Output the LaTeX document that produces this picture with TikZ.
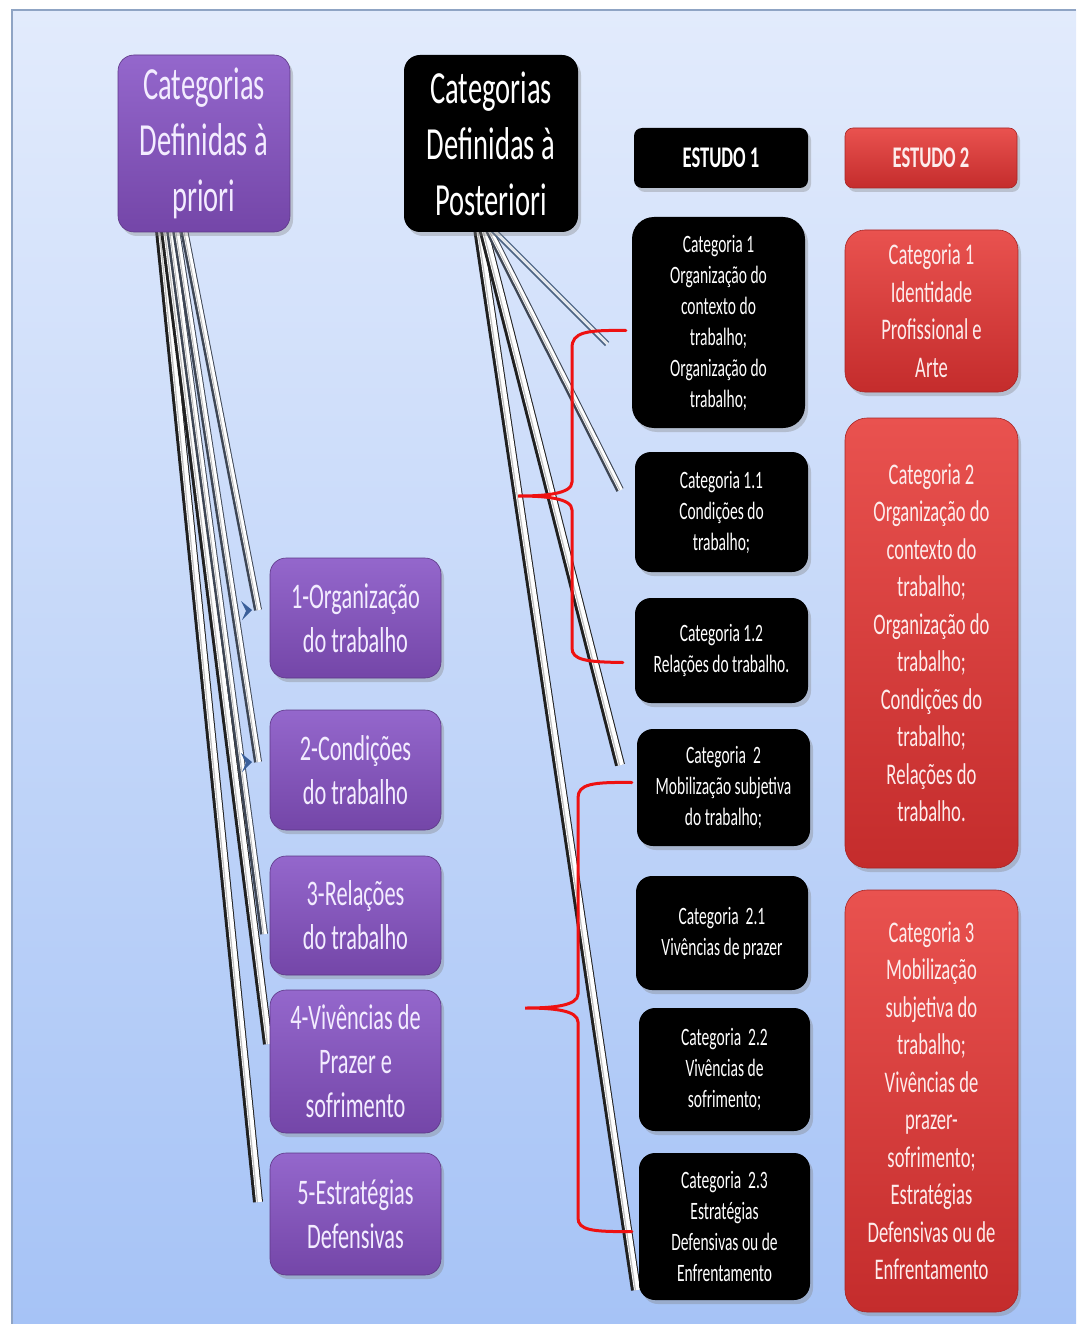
\documentclass[tikz,border=0pt]{standalone}
\usepackage{fontspec}
\setmainfont{Carlito}[FakeStretch=0.62]
\usetikzlibrary{shadows,calc,arrows.meta}
\definecolor{panelTop}{HTML}{E2EBFC}
\definecolor{panelBot}{HTML}{A6C3F6}
\definecolor{panelEdge}{HTML}{8FA4C4}
\definecolor{purpTop}{HTML}{9467CC}
\definecolor{purpBot}{HTML}{7446A8}
\definecolor{purpText}{HTML}{F3ECFF}
\definecolor{redTop}{HTML}{E9524F}
\definecolor{redBot}{HTML}{C42C2C}
\definecolor{redText}{HTML}{FDECEC}
\definecolor{tubeDark}{HTML}{202020}
\definecolor{tubeGrey}{HTML}{3E4654}
\definecolor{tubeBlue}{HTML}{4C6484}
\definecolor{tipBlue}{HTML}{3A5F9A}
\definecolor{braceRed}{HTML}{EE1111}
\tikzset{
  box/.style={rounded corners=16pt, align=center, inner sep=0pt,
    drop shadow={shadow xshift=3pt, shadow yshift=-4pt, opacity=0.35}},
  purplebox/.style={box, top color=purpTop, bottom color=purpBot, draw=purpBot!80!black, line width=0.6pt, text=purpText},
  blackbox/.style={box, fill=black, text=white},
  redbox/.style={box, top color=redTop, bottom color=redBot, draw=redBot!85!black, line width=0.6pt, text=redText},
  titlefont/.style={font=\fontsize{46}{56}\selectfont},
  purpfont/.style={font=\fontsize{36}{44}\selectfont},
  smallfont/.style={font=\fontsize{25}{31}\selectfont},
  redfont/.style={font=\fontsize{30}{37.5}\selectfont},
  headfont/.style={font=\bfseries\fontsize{30}{36}\selectfont},
  % metallic rods: dark body, light core slightly right of centre
  tubethick/.style={draw=tubeDark, line width=10pt,
    postaction={draw=white, line width=6pt, transform canvas={xshift=1pt}},
    postaction={draw=black!25, line width=1.2pt, transform canvas={xshift=-0.6pt}}},
  tubemid/.style={draw=tubeGrey, line width=8pt,
    postaction={draw=white, line width=4.5pt, transform canvas={xshift=0.8pt}},
    postaction={draw=black!25, line width=1pt, transform canvas={xshift=-0.4pt}}},
  tubethin/.style={draw=tubeBlue, line width=6pt,
    postaction={draw=white!85!tubeBlue, line width=3pt, transform canvas={xshift=0.5pt}}},
  bracket/.style={draw=braceRed, line width=3pt, line cap=round},
  tiphead/.style={fill=tipBlue, draw=none}
}
\begin{document}
\begin{tikzpicture}[x=1pt, y=-1pt]
% page and panel
\useasboundingbox (0,0) rectangle (1076,1324);
\fill[white] (0,0) rectangle (1076,1324);
\shade[top color=panelTop, bottom color=panelBot] (12,10) rectangle (1076,1324);
\draw[panelEdge, line width=2pt] (12,1324) -- (12,10) -- (1076,10);

% connectors from the two headline boxes (drawn first, boxes cover their roots)
\coordinate (s1) at (184,230);
\coordinate (s2) at (176,230);
\coordinate (s3) at (170,230);
\coordinate (s4) at (165,230);
\coordinate (s5) at (160,230);
\coordinate (a1) at (258,610);
\coordinate (a2) at (258,762);
\coordinate (a3) at (264,934);
\coordinate (a4) at (268,1044);
\coordinate (a5) at (258,1202);
\draw[tubethick] (s5) -- (a5);
\draw[tubethick] (s4) -- (a4);
\draw[tubemid] (s3) -- (a3);
\draw[tubemid] (s2) -- (a2);
\draw[tubemid] (s1) -- (a1);
\fill[tiphead] ($(a1)+(-17,-9)$) -- ($(a1)+(-6,0)$) -- ($(a1)+(-16,10)$) -- ($(a1)+(-12,1)$) -- cycle;
\fill[tiphead] ($(a2)+(-17,-9)$) -- ($(a2)+(-6,0)$) -- ($(a2)+(-16,10)$) -- ($(a2)+(-12,1)$) -- cycle;

\coordinate (t1) at (491,228);
\coordinate (t2) at (488,228);
\coordinate (t3) at (483,228);
\coordinate (t4) at (478,228);
\coordinate (c1) at (607,344);
\coordinate (c2) at (620,490);
\coordinate (c3) at (620,765);
\coordinate (c4) at (636,1290);
\draw[tubethick] (t4) -- (c4);
\draw[tubethick] (t3) -- (c3);
\draw[tubemid] (t2) -- (c2);
\draw[tubethin] (t1) -- (c1);

% headline boxes
\node[purplebox, titlefont, minimum width=172pt, minimum height=177pt] (pri) at (204,143.5)
  {Categorias\\Definidas à\\priori};
\node[blackbox, titlefont, minimum width=174pt, minimum height=177pt] (pos) at (491,143.5)
  {Categorias\\Definidas à\\Posteriori};
\node[blackbox, headfont, rounded corners=8pt, minimum width=174pt, minimum height=60pt] (e1) at (721,158) {ESTUDO 1};
\node[redbox, headfont, rounded corners=8pt, minimum width=172pt, minimum height=60pt] (e2) at (931,158) {ESTUDO 2};

% a priori categories
\node[purplebox, purpfont, minimum width=171pt, minimum height=120pt] (p1) at (355.5,618) {1-Organização\\do trabalho};
\node[purplebox, purpfont, minimum width=171pt, minimum height=120pt] (p2) at (355.5,770) {2-Condições\\do trabalho};
\node[purplebox, purpfont, minimum width=171pt, minimum height=119pt] (p3) at (355.5,915.5) {3-Relações\\do trabalho};
\node[purplebox, purpfont, minimum width=171pt, minimum height=143pt] (p4) at (355.5,1061.5) {4-Vivências de\\Prazer e\\sofrimento};
\node[purplebox, purpfont, minimum width=171pt, minimum height=122pt] (p5) at (355.5,1214) {5-Estratégias\\Defensivas};

% study 1 categories
\node[blackbox, smallfont, rounded corners=22pt, minimum width=173pt, minimum height=211pt] (b1) at (718.5,322.5)
  {Categoria 1\\Organização do\\contexto do\\trabalho;\\Organização do\\trabalho;};
\node[blackbox, smallfont, minimum width=173pt, minimum height=120pt] (b11) at (721.5,512)
  {Categoria 1.1\\Condições do\\trabalho;};
\node[blackbox, smallfont, minimum width=173pt, minimum height=105pt] (b12) at (721.5,650.5)
  {Categoria 1.2\\Relações do trabalho.};
\node[blackbox, smallfont, minimum width=173pt, minimum height=117pt] (b2) at (723.5,787.5)
  {Categoria\ \ 2\\Mobilização subjetiva\\do trabalho;};
\node[blackbox, smallfont, minimum width=172pt, minimum height=114pt] (b21) at (722,933)
  {Categoria\ \ 2.1\\Vivências de prazer};
\node[blackbox, smallfont, minimum width=171pt, minimum height=123pt] (b22) at (724.5,1069.5)
  {Categoria\ \ 2.2\\Vivências de\\sofrimento;};
\node[blackbox, smallfont, minimum width=171pt, minimum height=147pt] (b23) at (724.5,1226.5)
  {Categoria\ \ 2.3\\Estratégias\\Defensivas ou de\\Enfrentamento};

% study 2 categories
\node[redbox, redfont, rounded corners=20pt, minimum width=173pt, minimum height=162pt] (r1) at (931.5,311)
  {Categoria 1\\Identidade\\Profissional e\\Arte};
\node[redbox, redfont, rounded corners=22pt, minimum width=173pt, minimum height=450pt] (r2) at (931.5,643)
  {Categoria 2\\Organização do\\contexto do\\trabalho;\\Organização do\\trabalho;\\Condições do\\trabalho;\\Relações do\\trabalho.};
\node[redbox, redfont, rounded corners=22pt, minimum width=173pt, minimum height=422pt] (r3) at (931.5,1101)
  {Categoria 3\\Mobilização\\subjetiva do\\trabalho;\\Vivências de\\prazer-\\sofrimento;\\Estratégias\\Defensivas ou de\\Enfrentamento};

% red braces grouping the study 1 categories
\coordinate (k1top) at ($(b1.west)+(-6,8)$);
\coordinate (k1bot) at ($(b12.west)+(-12,12)$);
\coordinate (k1tip) at (518,496);
\draw[bracket] (k1top) .. controls (586,330) and (572,332) .. (572,348)
  -- (572,482) .. controls (572,494) and (545,496) .. (k1tip)
  .. controls (545,496) and (572,498) .. (572,510)
  -- (572,648) .. controls (572,660) and (586,662) .. (k1bot);
\coordinate (k2top) at ($(b2.west)+(-5,-5)$);
\coordinate (k2bot) at ($(b23.west)+(-7,5)$);
\coordinate (k2tip) at (525,1008);
\draw[bracket] (k2top) .. controls (592,782) and (578,784) .. (578,798)
  -- (578,994) .. controls (578,1006) and (552,1008) .. (k2tip)
  .. controls (552,1008) and (578,1010) .. (578,1022)
  -- (578,1218) .. controls (578,1230) and (592,1232) .. (k2bot);
\end{tikzpicture}
\end{document}
